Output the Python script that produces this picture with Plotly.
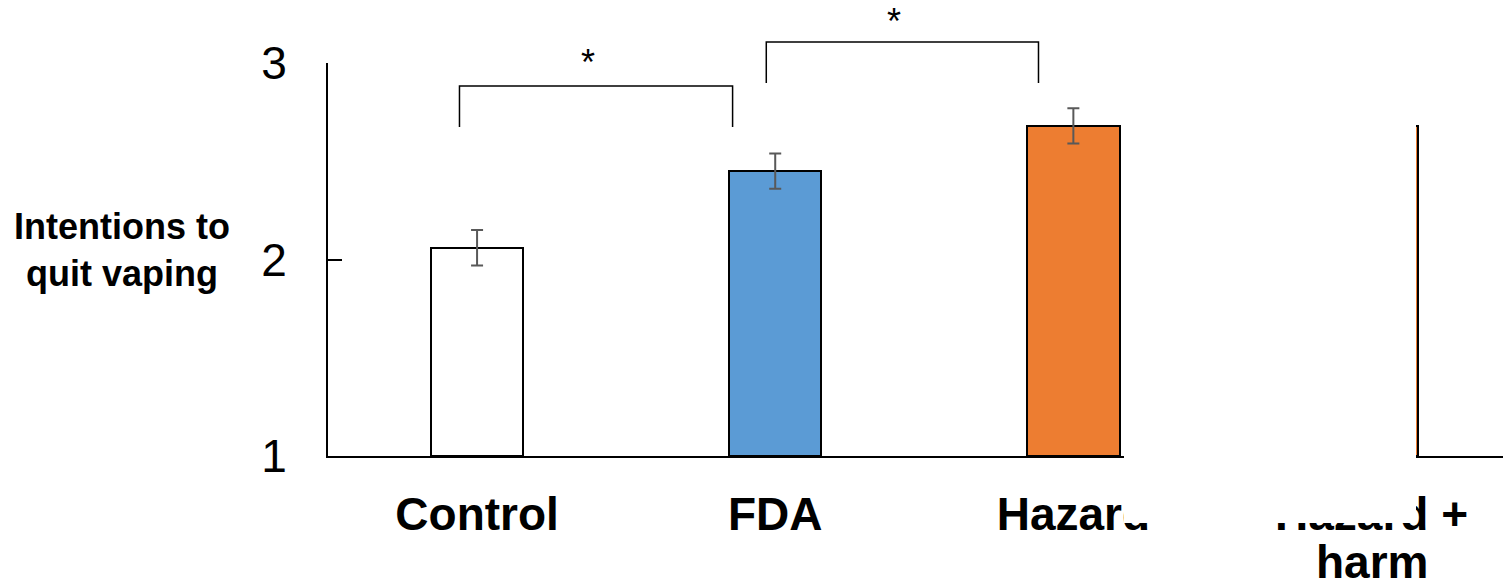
import plotly.graph_objects as go

# ---- data ----
categories = ["Control", "FDA", "Hazard", "Hazard +"]
category_second_line = ["", "", "", "harm"]
means = [2.06, 2.45, 2.68, 2.68]
errors = [0.09, 0.09, 0.09, 0.09]
bar_colors = ["#FFFFFF", "#5B9BD5", "#ED7D31", "#ED7D31"]
y_ticks = [1, 2, 3]
y_title = "<b>Intentions to<br>quit vaping</b>"

# significance brackets (data units): x_left, x_right, y_top, y_bottom
brackets_x0 = [-0.059, 0.970]
brackets_x1 = [0.857, 1.883]
brackets_top = [2.883, 3.107]
brackets_bottom = [2.674, 2.898]
star_x = [0.371, 1.398]
star_y = [3.005, 3.21]
star_text = ["*", "*"]

Y_MIN, Y_MAX = 1, 3
X_MIN, X_MAX = -0.5, 3.441

W, H = 1503, 587
ML, MT, MR, MB = 328, 63, 0, 131
PLOT_W = W - ML - MR

def ypaper(v):
    return (v - Y_MIN) / (Y_MAX - Y_MIN)

FONT = "Arial, 'Liberation Sans', sans-serif"

fig = go.Figure()
fig.add_trace(go.Bar(
    x=list(range(len(categories))),
    y=[m - Y_MIN for m in means],
    base=Y_MIN,
    width=0.31,
    marker=dict(color=bar_colors, line=dict(color="#000000", width=2)),
    error_y=dict(type="data", array=errors, color="#595959", thickness=2, width=6),
    showlegend=False,
    hoverinfo="skip",
))

shapes = []
for x0, x1, yt, yb in zip(brackets_x0, brackets_x1, brackets_top, brackets_bottom):
    shapes.append(dict(
        type="path", xref="x", yref="paper",
        path=f"M {x0} {ypaper(yb)} L {x0} {ypaper(yt)} L {x1} {ypaper(yt)} L {x1} {ypaper(yb)}",
        line=dict(color="#000000", width=1.5),
    ))

# white panel covering part of the chart (as in the source image)
shapes.append(dict(
    type="rect", xref="paper", yref="paper", layer="above",
    x0=(1124 - ML) / PLOT_W, x1=(1416 - ML) / PLOT_W, y0=-0.1705, y1=1.2,
    fillcolor="#FFFFFF", line=dict(width=0),
))

annotations = []
for sx, sy, st in zip(star_x, star_y, star_text):
    annotations.append(dict(
        x=sx, y=ypaper(sy), xref="x", yref="paper", text=st, showarrow=False,
        font=dict(family=FONT, size=36, color="#000000"),
        xanchor="center", yanchor="middle",
    ))
annotations.append(dict(
    x=3, y=-0.2697, xref="x", yref="paper", text=f"<b>{category_second_line[3]}</b>",
    showarrow=False, font=dict(family=FONT, size=46, color="#000000"),
    xanchor="center", yanchor="middle",
))
annotations.append(dict(
    x=(121.5 - ML) / PLOT_W, y=0.524, xref="paper", yref="paper", text=y_title,
    showarrow=False, font=dict(family=FONT, size=36, color="#000000"),
    xanchor="center", yanchor="middle",
))

fig.update_layout(
    width=W, height=H,
    margin=dict(l=ML, r=MR, t=MT, b=MB),
    paper_bgcolor="white", plot_bgcolor="white",
    font=dict(family=FONT, color="#000000"),
    shapes=shapes, annotations=annotations,
    bargap=0,
)
fig.update_xaxes(
    range=[X_MIN, X_MAX],
    tickmode="array", tickvals=list(range(len(categories))),
    ticktext=[f"<b>{c}</b>" for c in categories],
    tickfont=dict(family=FONT, size=46, color="#000000"),
    showline=True, linecolor="#000000", linewidth=2,
    ticks="", showgrid=False, zeroline=False,
    ticklabelstandoff=17,
)
fig.update_yaxes(
    range=[Y_MIN, Y_MAX],
    tickmode="array", tickvals=y_ticks, ticktext=[str(t) for t in y_ticks],
    tickfont=dict(family=FONT, size=46, color="#000000"),
    showline=True, linecolor="#000000", linewidth=2,
    ticks="inside", ticklen=14, tickwidth=2, tickcolor="#000000",
    showgrid=False, zeroline=False,
    ticklabelstandoff=30,
)

fig.write_html(
    "out.html",
    config={"displayModeBar": False},
    post_script="document.body.style.margin='0';document.body.style.overflow='hidden';",
)
